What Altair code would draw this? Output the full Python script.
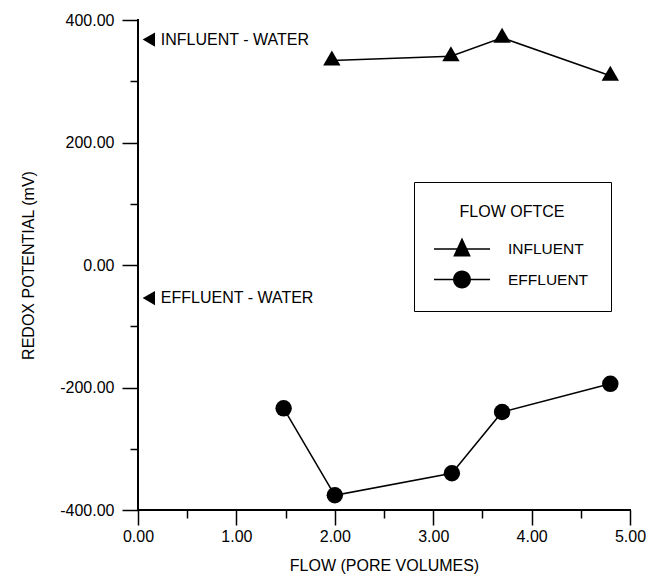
import altair as alt
import pandas as pd

# Measured redox potential (mV) against cumulative flow (pore volumes)
series_names = ["INFLUENT", "EFFLUENT"]
influent_x = [1.97, 3.18, 3.70, 4.80]
influent_y = [334, 341, 371, 309]
effluent_x = [1.48, 2.00, 3.19, 3.70, 4.80]
effluent_y = [-234, -376, -340, -240, -194]

# Reference readings for plain water
water_labels = ["INFLUENT - WATER", "EFFLUENT - WATER"]
water_x = [0.11, 0.11]
water_y = [368, -54]

x_major = [0, 1, 2, 3, 4, 5]
x_minor = [0.5, 1.5, 2.5, 3.5, 4.5]
y_major = [-400, -200, 0, 200, 400]
y_minor = [-300, -100, 100, 300]

FONT = "Liberation Sans"
PAD = 5  # pixel padding of both scales; axes are pulled in by the same amount

rows = []
for name, xs, ys in ((series_names[0], influent_x, influent_y),
                     (series_names[1], effluent_x, effluent_y)):
    for i, (x, y) in enumerate(zip(xs, ys)):
        rows.append({"series": name, "order": i, "flow": x, "redox": y})
df = pd.DataFrame(rows)
water = pd.DataFrame({"label": water_labels, "flow": water_x, "redox": water_y})

# Axis lines along the left and bottom of the data range, spanning the tick ranges
frame = pd.DataFrame({
    "flow": [x_major[0], x_major[0], x_major[-1]],
    "redox": [y_major[-1], y_major[0], y_major[0]],
    "step": [0, 1, 2],
})
frame_v = pd.DataFrame({"flow": [x_major[0]], "redox": [y_major[0]], "redox2": [y_major[-1]]})
frame_h = pd.DataFrame({"flow": [x_major[0]], "flow2": [x_major[-1]], "redox": [y_major[0]]})

x_scale = alt.Scale(domain=[x_major[0], x_major[-1]], nice=False, zero=False, padding=PAD)
y_scale = alt.Scale(domain=[y_major[0], y_major[-1]], nice=False, zero=False, padding=PAD)

label_fmt = "replace(format(datum.value, '.2f'), '\u2212', '-')"

major_style = dict(
    grid=False, domain=False, tickColor="black", tickWidth=1.5, offset=-PAD,
    labelFont=FONT, labelFontSize=16, labelColor="black",
    labelOverlap=False, labelFlush=False, labelExpr=label_fmt,
    titleFont=FONT, titleFontSize=16, titleFontWeight="normal",
    titleColor="black",
)
minor_style = dict(
    grid=False, domain=False, labels=False, title=None, tickColor="black",
    tickWidth=1.5, tickSize=8, offset=-PAD,
)

x_axis = alt.Axis(title="FLOW (PORE VOLUMES)", values=x_major, orient="bottom",
                  tickSize=15, labelPadding=3, titleBaseline="alphabetic",
                  titleY=60, **major_style)
y_axis = alt.Axis(title="REDOX POTENTIAL (mV)", values=y_major, orient="left",
                  tickSize=16, labelPadding=8, titleBaseline="alphabetic",
                  titleX=-105, **major_style)
x_axis_minor = alt.Axis(values=x_minor, orient="bottom", **minor_style)
y_axis_minor = alt.Axis(values=y_minor, orient="left", **minor_style)

X_plain = alt.X("flow:Q", scale=x_scale, axis=None)
Y_plain = alt.Y("redox:Q", scale=y_scale, axis=None)

base = alt.Chart(df)

axis_path = alt.Chart(frame).mark_line(
    color="black", strokeWidth=2, strokeJoin="miter", strokeCap="square"
).encode(x=X_plain, y=Y_plain, order="step:Q")

axis_v = alt.Chart(frame_v).mark_bar(size=2, color="black", orient="vertical").encode(
    x=X_plain, y=Y_plain, y2="redox2:Q"
)
axis_h = alt.Chart(frame_h).mark_bar(size=2, color="black", orient="horizontal").encode(
    x=X_plain, x2="flow2:Q", y=Y_plain
)

lines = base.mark_line(color="black", strokeWidth=1.5).encode(
    x=alt.X("flow:Q", scale=x_scale, axis=x_axis),
    y=alt.Y("redox:Q", scale=y_scale, axis=y_axis),
    detail="series:N",
    order="order:Q",
)

points = base.mark_point(filled=True, color="black", opacity=1).encode(
    x=alt.X("flow:Q", scale=x_scale, axis=x_axis_minor),
    y=alt.Y("redox:Q", scale=y_scale, axis=y_axis_minor),
    shape=alt.Shape("series:N", sort=series_names,
                    scale=alt.Scale(domain=series_names, range=["triangle", "circle"]),
                    legend=None),
    size=alt.Size("series:N", sort=series_names,
                  scale=alt.Scale(domain=series_names, range=[300, 270]),
                  legend=None),
)

# Legend symbols: a short bar with the series marker on it (all filled)
tri_sym = "M-3.5,-0.09H3.5V0.09H-3.5ZM0,-1.45L1.1,0.93L-1.1,0.93Z"
circ_sym = ("M-3.5,-0.09H3.5V0.09H-3.5Z"
            "M1.12,0A1.12,1.12,0,1,1,-1.12,0A1.12,1.12,0,1,1,1.12,0Z")

legend_layer = base.transform_filter("false").mark_point(
    filled=True, color="black", strokeWidth=0, opacity=1
).encode(
    x=X_plain,
    y=Y_plain,
    shape=alt.Shape(
        "series:N", sort=series_names,
        scale=alt.Scale(domain=series_names, range=[tri_sym, circ_sym]),
        legend=alt.Legend(
            title="FLOW OFTCE", orient="none", legendX=276 + PAD, legendY=162 + PAD,
            direction="vertical", padding=22, strokeColor="black",
            fillColor="white", titleAnchor="middle", titleFont=FONT,
            titleFontSize=16, titleFontWeight="normal", titleColor="black",
            titlePadding=21, labelFont=FONT, labelFontSize=15.5,
            labelColor="black", labelOffset=38, symbolOffset=18,
            symbolSize=256, rowPadding=12.5, symbolFillColor="black",
            symbolStrokeWidth=0,
        ),
    ),
)

water_marks = alt.Chart(water).mark_point(
    shape="triangle-left", filled=True, color="black", size=205, opacity=1
).encode(x=X_plain, y=Y_plain)

water_text = alt.Chart(water).mark_text(
    align="left", baseline="middle", dx=12, font=FONT, fontSize=16, color="black"
).encode(x=X_plain, y=Y_plain, text="label:N")

chart = (
    alt.layer(lines, points, axis_path, axis_v, axis_h, legend_layer,
              water_marks, water_text)
    .resolve_scale(shape="independent", size="independent")
    .resolve_axis(x="independent", y="independent")
    .properties(
        width=492 + 2 * PAD, height=490 + 2 * PAD,
        padding={"left": 138 - PAD, "top": 20 - PAD, "right": 32 - PAD, "bottom": 64 - PAD},
        autosize=alt.AutoSizeParams(type="none"),
        background="white",
    )
    .configure_view(stroke=None)
)

chart.save("out.html", embed_options={"renderer": "svg", "actions": False})
